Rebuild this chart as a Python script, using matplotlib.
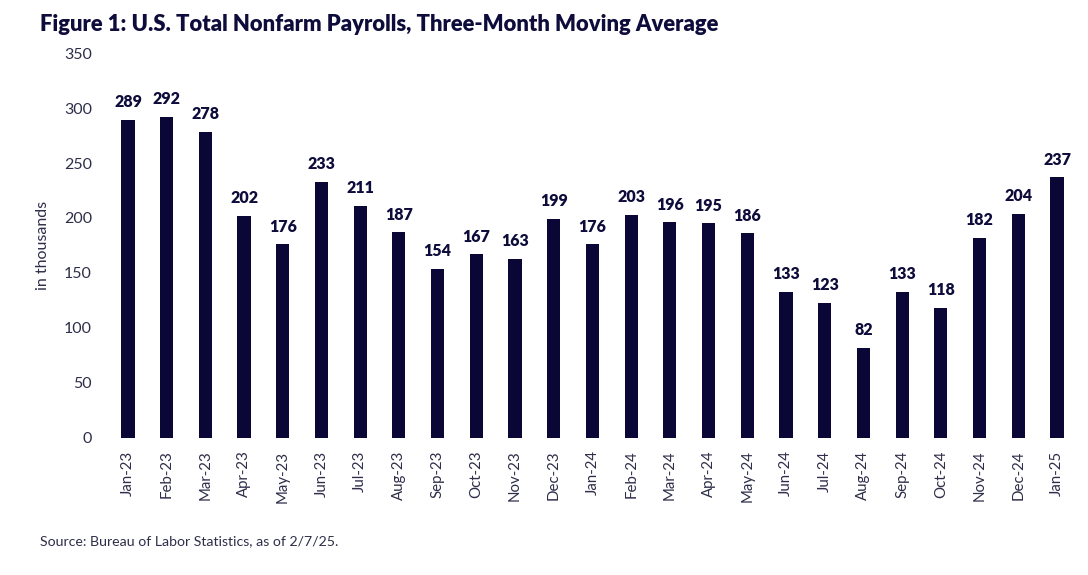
import matplotlib
matplotlib.use("Agg")
import matplotlib.pyplot as plt

months = ["Jan-23", "Feb-23", "Mar-23", "Apr-23", "May-23", "Jun-23", "Jul-23", "Aug-23",
          "Sep-23", "Oct-23", "Nov-23", "Dec-23", "Jan-24", "Feb-24", "Mar-24", "Apr-24",
          "May-24", "Jun-24", "Jul-24", "Aug-24", "Sep-24", "Oct-24", "Nov-24", "Dec-24", "Jan-25"]
values = [289, 292, 278, 202, 176, 233, 211, 187, 154, 167, 163, 199, 176, 203, 196, 195,
          186, 133, 123, 82, 133, 118, 182, 204, 237]
yticks = [0, 50, 100, 150, 200, 250, 300, 350]

bar_color = "#0a0636"
text_color = "#0d0c3a"
tick_color = "#2e2e4a"

plt.rcParams['font.family'] = ['Lato', 'DejaVu Sans']

fig = plt.figure(figsize=(10.88, 5.75), dpi=100)
ax = fig.add_axes([0.0998, 0.2383, 0.8895, 0.6695])

x = list(range(len(months)))
ax.bar(x, values, width=0.34, color=bar_color)
for xi, v in zip(x, values):
    ax.annotate(str(v), (xi, v), xytext=(0, 7), textcoords="offset points",
                ha="center", va="bottom", fontsize=11.5, fontweight="heavy", color=text_color)

ax.set_xlim(-0.5, len(months) - 0.5)
ax.set_ylim(0, 350)
ax.set_yticks(yticks)
ax.set_yticklabels([str(t) for t in yticks], fontsize=11.5, color=tick_color)
ax.set_xticks(x)
ax.set_xticklabels(months, rotation=90, fontsize=10.8, color=tick_color)
ax.tick_params(length=0, pad=9)
ax.tick_params(axis='y', pad=12)
for s in ax.spines.values():
    s.set_visible(False)
ax.set_ylabel("in thousands", fontsize=11.5, color=tick_color, labelpad=10)

fig.text(0.037, 0.975, "Figure 1: U.S. Total Nonfarm Payrolls, Three-Month Moving Average",
         fontsize=15.8, fontweight="heavy", color=text_color, ha="left", va="top")
fig.text(0.037, 0.058, "Source: Bureau of Labor Statistics, as of 2/7/25.",
         fontsize=10.2, color=tick_color, ha="left", va="center")

fig.savefig("out.png", dpi=100)
